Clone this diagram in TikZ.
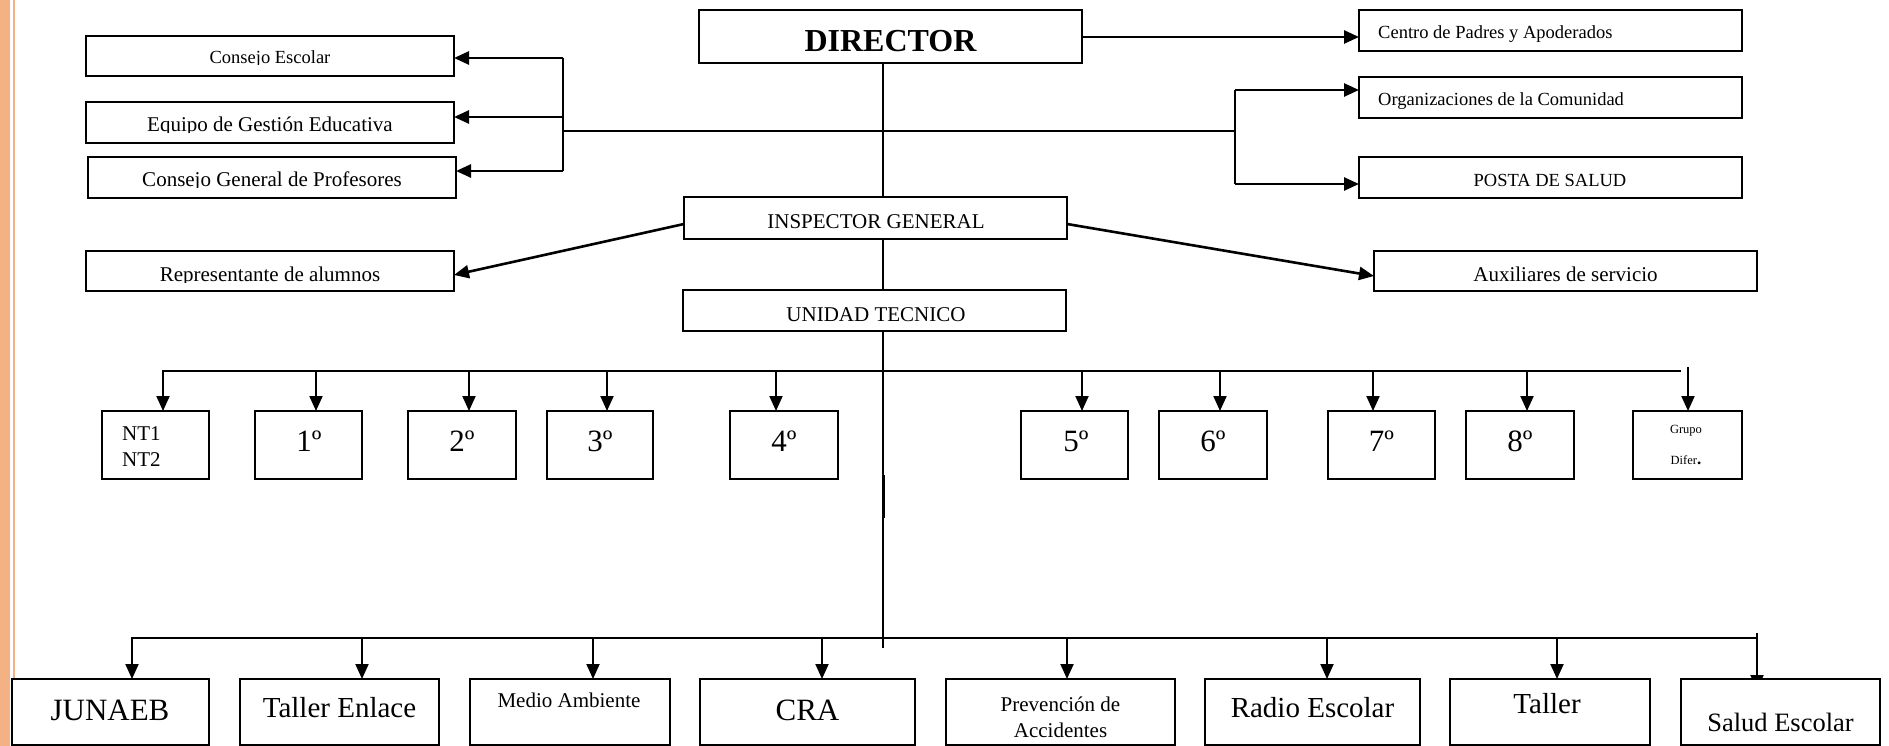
\documentclass[tikz,border=0pt]{standalone}
\usepackage{fontspec}
\setmainfont{Liberation Serif}
\usetikzlibrary{arrows.meta}
\pgfdeclarelayer{bg}
\pgfsetlayers{bg,main}
\definecolor{peach}{RGB}{244,177,131}
\newcommand\mkbox[5]{\node[bx,minimum width={#4-#2},minimum height={#5-#3}] (#1) at ({(#2+#4)/2},{(#3+#5)/2}) {};}
\tikzset{
  bx/.style={draw, line width=1.6pt, fill=white, inner sep=0pt, outer sep=0pt},
  arr/.style={line width=2.6pt, -{Triangle[length=15pt,width=13pt]}},
  arrs/.style={line width=2pt, -{Triangle[length=15pt,width=13pt]}},
  ln/.style={line width=2.4pt},
  vln/.style={line width=1.6pt},
  t12/.style={font=\fontsize{12.5}{15}\selectfont, inner sep=0pt},
  t18/.style={font=\fontsize{18.5}{22}\selectfont, inner sep=0pt},
  t21/.style={font=\fontsize{21}{25}\selectfont, inner sep=0pt},
  t27/.style={font=\fontsize{26.5}{30}\selectfont, inner sep=0pt},
  t29/.style={font=\fontsize{29}{33}\selectfont, inner sep=0pt},
  t31/.style={font=\fontsize{31}{35}\selectfont, inner sep=0pt},
  tdir/.style={font=\fontsize{32}{36}\selectfont\bfseries, inner sep=0pt},
}
\begin{document}
\begin{tikzpicture}[x=1pt,y=-1pt]
\useasboundingbox (0,0) rectangle (1889,746);
\fill[peach] (0,0) rectangle (10,746);
\fill[peach] (13,0) rectangle (15,746);

% boxes
\mkbox{dir}{699}{10}{1082}{63}
\mkbox{cpa}{1359}{10}{1742}{51}
\mkbox{org}{1359}{77}{1742}{118}
\mkbox{posta}{1359}{157}{1742}{198}
\mkbox{ce}{86}{36}{454}{76}
\mkbox{ege}{86}{102}{454}{143}
\mkbox{cgp}{88}{157}{456}{198}
\mkbox{rep}{86}{251}{454}{291}
\mkbox{insp}{684}{197}{1067}{239}
\mkbox{aux}{1374}{251}{1757}{291}
\mkbox{ut}{683}{290}{1066}{331}
\mkbox{nt}{102}{411}{209}{479}
\mkbox{g1}{255}{411}{362}{479}
\mkbox{g2}{408}{411}{516}{479}
\mkbox{g3}{547}{411}{653}{479}
\mkbox{g4}{730}{411}{838}{479}
\mkbox{g5}{1021}{411}{1128}{479}
\mkbox{g6}{1159}{411}{1267}{479}
\mkbox{g7}{1328}{411}{1435}{479}
\mkbox{g8}{1466}{411}{1574}{479}
\mkbox{gd}{1633}{411}{1742}{479}
\mkbox{jun}{12}{679}{209}{745}
\mkbox{te}{240}{679}{439}{745}
\mkbox{ma}{470}{679}{670}{745}
\mkbox{cra}{700}{679}{915}{745}
\mkbox{pa}{946}{679}{1175}{745}
\mkbox{re}{1205}{679}{1420}{745}
\mkbox{ta}{1450}{679}{1650}{745}
\mkbox{se}{1681}{679}{1880}{745}

% texts
\node[tdir,anchor=base] (tdir) at (890.5,52) {DIRECTOR};
\node[t18,anchor=base west] (tcpa) at (1378,39) {Centro de Padres y Apoderados};
\node[t18,anchor=base west] (torg) at (1378,106) {Organizaciones de la Comunidad};
\node[t18,anchor=base] (tposta) at (1550,187) {POSTA DE SALUD};
\begin{scope}
  \clip (86,36) rectangle (454,65);
  \node[t18,anchor=base] (tce) at (270,64) {Consejo Escolar};
\end{scope}
\begin{scope}
  \clip (86,102) rectangle (454,133);
  \node[t21,anchor=base] (tege) at (270,132) {Equipo de Gestión Educativa};
\end{scope}
\begin{scope}
  \clip (88,157) rectangle (456,188);
  \node[t21,anchor=base] (tcgp) at (272,187) {Consejo General de Profesores};
\end{scope}
\begin{scope}
  \clip (86,251) rectangle (454,282);
  \node[t21,anchor=base] (trep) at (270,281) {Representante de alumnos};
\end{scope}
\node[t21,anchor=base] (tinsp) at (876,228) {INSPECTOR GENERAL};
\node[t21,anchor=base] (tut) at (876,321) {UNIDAD TECNICO};
\node[t21,anchor=base] (taux) at (1565.5,281) {Auxiliares de servicio};
\node[t21,anchor=base west] (tnt1) at (122,440) {NT1};
\node[t21,anchor=base west] (tnt2) at (122,466) {NT2};
\node[t31,anchor=base] (tg1) at (309,451) {1º};
\node[t31,anchor=base] (tg2) at (462,451) {2º};
\node[t31,anchor=base] (tg3) at (600,451) {3º};
\node[t31,anchor=base] (tg4) at (784,451) {4º};
\node[t31,anchor=base] (tg5) at (1076,451) {5º};
\node[t31,anchor=base] (tg6) at (1213,451) {6º};
\node[t31,anchor=base] (tg7) at (1381.5,451) {7º};
\node[t31,anchor=base] (tg8) at (1520,451) {8º};
\node[t12,anchor=base] (tgd1) at (1686,433) {Grupo};
\node[t12,anchor=base] (tgd2) at (1686,464) {Difer{\fontsize{17}{17}\selectfont\bfseries .}};
\node[t31,anchor=base] (tjun) at (110,720) {JUNAEB};
\node[t29,anchor=base] (tte) at (339.5,717) {Taller Enlace};
\node[t21,anchor=base] (tma) at (569,707) {Medio Ambiente};
\node[t31,anchor=base] (tcra) at (807.5,720) {CRA};
\node[t21,anchor=base] (tpa1) at (1060.5,711) {Prevención de};
\node[t21,anchor=base] (tpa2) at (1060.5,737) {Accidentes};
\node[t29,anchor=base] (tre) at (1312.5,717) {Radio Escolar};
\node[t29,anchor=base] (tta) at (1547,713) {Taller};
\node[t27,anchor=base] (tse) at (1780.5,731) {Salud Escolar};

% coordinates
\coordinate (Lt) at (563,58);
\coordinate (Le) at (563,117);
\coordinate (Lb) at (563,171);
\coordinate (Lm) at (563,131);
\coordinate (Rm) at (1235,131);
\coordinate (Rt) at (1235,90);
\coordinate (Rb) at (1235,184);
\coordinate (vend) at (883,648);
\coordinate (gtop) at (1688,367);
\coordinate (stop) at (1757,633);

% main vertical
\draw[vln] (883,0 |- dir.south) -- (883,0 |- insp.north);
\draw[vln] (883,0 |- insp.south) -- (883,0 |- ut.north);
\draw[vln] (883,0 |- ut.south) -- (vend);
\draw[line width=3pt] (883,475) -- (883,518);

% director to centro de padres
\draw[arr] (dir.east |- 0,37) -- (cpa.west |- 0,37);

% middle horizontal and brackets
\draw[ln] (Lm) -- (Rm);
\draw[ln] (Lt) -- (Lb);
\draw[ln] (Rt) -- (Rb);
\draw[arr] (Lt) -- (ce.east |- Lt);
\draw[arr] (Le) -- (ege.east |- Le);
\draw[arr] (Lb) -- (cgp.east |- Lb);
\draw[arr] (Rt) -- (org.west |- Rt);
\draw[arr] (Rb) -- (posta.west |- Rb);

% inspector diagonals
\draw[arr] (insp.west |- 0,224) -- (rep.east |- 0,275);
\draw[arr] (insp.east |- 0,224) -- (aux.west |- 0,276);

% upper bus
\draw[ln] (162,371) -- (1681,371);
\foreach \x/\n in {163/nt,316/g1,469/g2,607/g3,776/g4,1082/g5,1220/g6,1373/g7,1527/g8}
  \draw[arrs] (\x,371) -- (\x,0 |- \n.north);
\draw[arrs] (gtop) -- (gtop |- gd.north);

% lower bus
\draw[ln] (131,638) -- (1757,638);
\draw[ln] (stop) -- (1757,639);
\foreach \x/\n in {132/jun,362/te,593/ma,822/cra,1067/pa,1327/re,1557/ta}
  \draw[arrs] (\x,638) -- (\x,0 |- \n.north);
\begin{pgfonlayer}{bg}
  \draw[arrs] (stop) -- (1757,690);
\end{pgfonlayer}
\end{tikzpicture}
\end{document}
